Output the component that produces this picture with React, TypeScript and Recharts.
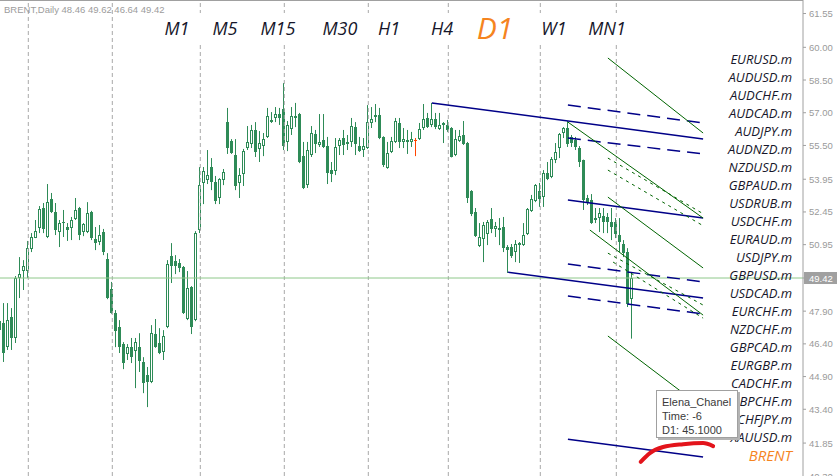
import React from "react";
import { ComposedChart, Bar, XAxis, YAxis, ReferenceLine, Scatter } from "recharts";

// BRENT daily bars, oldest first
const opens = [
  47.03, 47.35, 46.25, 47.63, 46.66, 49.42, 49.74, 49.74, 50.75, 51.25, 51.71, 52.63, 51.30, 53.04, 52.45, 51.53, 51.99, 51.76, 51.71, 52.13,
  52.63, 51.53, 51.53, 52.45, 51.21, 51.07, 51.53, 50.29, 48.91, 47.81, 47.17, 46.39, 45.93, 46.25, 46.07, 46.25, 45.56, 44.97, 44.65, 46.85,
  46.44, 46.02, 47.17, 50.43, 50.20, 50.11, 49.92, 47.54, 49.01, 47.49, 51.62, 53.78, 53.91, 54.51, 53.82, 53.09, 53.91, 56.57, 55.70, 55.06,
  53.78, 54.19, 55.38, 55.56, 56.21, 55.34, 55.47, 55.89, 56.67, 56.76, 56.94, 57.17, 55.66, 56.25, 56.76, 56.94, 55.01, 53.68, 55.06, 56.02,
  55.52, 55.75, 55.47, 54.37, 54.33, 55.47, 55.84, 55.66, 55.66, 56.34, 55.47, 55.29, 55.38, 56.53, 56.90, 56.90, 55.89, 54.46, 55.20, 55.66,
  56.53, 55.66, 55.75, 55.66, 55.75, 55.79, 56.30, 56.76, 56.44, 56.71, 56.25, 56.53, 56.44, 56.30, 55.06, 55.70, 55.98, 55.61, 53.41, 52.45,
  50.89, 51.21, 51.44, 52.13, 51.67, 51.71, 51.76, 50.84, 50.84, 50.61, 50.93, 50.93, 51.44, 52.49, 52.95, 53.41, 53.13, 54.23, 54.05, 54.83,
  55.38, 56.07, 56.30, 55.89, 55.75, 55.38, 54.83, 53.09, 53.00, 52.13, 52.17, 52.26, 52.22, 51.99, 51.99, 51.39, 50.98, 50.61, 48.46,
];
const highs = [
  47.81, 48.27, 48.27, 48.04, 49.51, 50.38, 50.24, 51.12, 51.48, 52.08, 52.72, 52.86, 53.73, 53.32, 52.86, 52.08, 52.54, 51.94, 52.22, 53.09,
  52.68, 51.94, 52.90, 52.50, 51.76, 51.85, 51.67, 50.56, 49.24, 47.95, 47.49, 46.48, 46.39, 46.67, 46.67, 46.89, 45.79, 45.34, 47.26, 47.54,
  47.12, 47.03, 50.24, 51.02, 50.47, 50.29, 49.97, 49.74, 49.05, 51.57, 54.51, 54.51, 55.29, 54.92, 54.10, 54.00, 54.42, 57.22, 55.79, 55.79,
  54.46, 55.34, 56.39, 56.44, 56.57, 56.16, 56.07, 57.22, 57.03, 57.26, 57.22, 58.36, 56.62, 57.26, 57.45, 56.99, 55.66, 55.66, 56.39, 56.21,
  56.94, 56.94, 55.89, 54.74, 55.84, 55.84, 56.21, 55.98, 56.76, 56.57, 55.89, 55.84, 57.35, 57.26, 57.40, 57.22, 55.92, 55.66, 55.89, 56.76,
  56.76, 56.30, 56.21, 56.12, 55.84, 56.53, 57.40, 56.99, 57.45, 56.99, 56.99, 56.57, 56.67, 56.34, 56.21, 56.21, 56.62, 55.66, 53.45, 52.63,
  51.94, 51.99, 52.08, 52.63, 51.99, 52.17, 52.22, 50.93, 50.98, 51.16, 51.07, 51.94, 52.63, 53.23, 53.73, 53.78, 54.37, 54.74, 54.97, 55.61,
  56.07, 56.34, 56.62, 55.98, 55.89, 55.47, 54.85, 53.23, 53.27, 52.63, 52.63, 52.63, 52.40, 52.63, 52.17, 52.17, 51.16, 50.79, 49.62,
];
const lows = [
  46.89, 45.57, 46.12, 46.12, 46.44, 48.50, 48.87, 49.42, 50.61, 51.25, 51.48, 51.48, 51.25, 52.40, 51.39, 50.84, 51.30, 51.12, 51.16, 52.08,
  51.16, 51.34, 51.48, 51.16, 50.70, 50.93, 50.47, 48.45, 47.78, 46.25, 45.98, 45.24, 45.66, 45.52, 44.37, 45.11, 44.14, 43.50, 44.60, 46.22,
  45.93, 45.66, 47.12, 49.19, 49.60, 49.69, 47.77, 47.49, 46.85, 47.44, 51.48, 52.81, 53.73, 53.45, 52.81, 52.81, 53.68, 55.11, 55.11, 53.45,
  53.09, 53.64, 55.29, 55.38, 54.97, 54.74, 55.01, 55.84, 56.53, 56.57, 56.44, 55.29, 55.24, 55.98, 56.34, 54.69, 53.50, 53.55, 54.97, 55.15,
  55.43, 55.38, 53.73, 53.82, 54.14, 55.06, 55.06, 55.29, 55.43, 55.06, 55.20, 54.97, 55.34, 56.30, 56.57, 55.79, 54.51, 54.43, 55.15, 55.61,
  55.38, 55.38, 55.11, 55.43, 55.01, 55.75, 56.21, 56.30, 56.34, 56.25, 56.21, 55.61, 56.12, 54.95, 55.01, 55.66, 55.52, 52.86, 52.26, 51.30,
  50.84, 50.15, 50.93, 51.48, 51.30, 50.93, 50.61, 49.65, 50.34, 50.15, 50.11, 50.89, 51.39, 52.45, 52.90, 52.68, 52.68, 53.91, 54.00, 54.69,
  54.92, 55.84, 55.43, 55.43, 55.29, 54.51, 52.54, 52.77, 51.90, 51.94, 51.53, 51.48, 51.48, 51.16, 51.25, 50.61, 50.38, 48.09, 46.64,
];
const closes = [
  47.44, 45.98, 47.49, 46.66, 49.42, 49.60, 49.97, 50.79, 51.30, 51.57, 52.58, 51.67, 52.90, 52.45, 51.62, 51.94, 51.94, 51.62, 52.08, 52.54,
  51.39, 51.90, 52.40, 51.25, 51.02, 51.39, 50.61, 48.50, 47.81, 46.99, 46.25, 45.52, 46.25, 45.79, 46.48, 45.61, 44.60, 44.65, 46.89, 46.25,
  45.98, 46.76, 50.06, 49.97, 49.97, 49.88, 47.81, 48.96, 47.17, 51.48, 53.68, 54.33, 54.14, 53.82, 52.95, 53.96, 54.28, 55.38, 55.15, 53.64,
  54.14, 55.24, 55.66, 56.21, 55.20, 55.61, 55.79, 56.85, 56.57, 56.94, 56.76, 55.47, 56.44, 56.85, 56.85, 54.74, 53.55, 55.29, 56.07, 55.56,
  55.66, 55.43, 54.23, 54.19, 55.43, 55.75, 55.52, 55.56, 56.39, 55.56, 55.24, 55.47, 56.57, 56.71, 56.80, 55.84, 54.60, 55.15, 55.70, 56.62,
  55.66, 55.79, 55.66, 55.79, 55.75, 56.25, 56.71, 56.34, 56.71, 56.34, 56.44, 56.44, 56.21, 54.97, 55.79, 55.93, 55.56, 53.09, 52.35, 51.34,
  51.30, 51.85, 51.99, 51.67, 51.80, 51.62, 50.79, 50.70, 50.43, 50.98, 51.02, 51.39, 52.58, 53.04, 53.68, 53.04, 54.23, 53.96, 54.88, 55.20,
  56.02, 56.30, 55.56, 55.61, 55.43, 54.74, 53.00, 52.90, 51.94, 52.17, 52.40, 51.99, 51.99, 51.76, 51.44, 51.07, 50.56, 48.23, 49.42,
];

const highlightBar = 104;
const separatorBars = [7, 28, 50, 71, 92, 112, 135, 154];
const priceTicks = [61.55, 60.0, 58.5, 57.0, 55.5, 53.95, 52.45, 50.95, 49.42, 47.9, 46.4, 44.9, 43.4, 41.85, 40.3];
const lastPrice = 49.42;
const header = "BRENT,Daily 48.46 49.62 46.64 49.42";

const timeframes = ["M1", "M5", "M15", "M30", "H1", "H4", "D1", "W1", "MN1"];
const timeframeX = [177, 225, 278, 340, 389, 442, 495, 554, 607];
const activeTimeframe = "D1";

const symbols = [
  "EURUSD.m", "AUDUSD.m", "AUDCHF.m", "AUDCAD.m", "AUDJPY.m", "AUDNZD.m", "NZDUSD.m", "GBPAUD.m",
  "USDRUB.m", "USDCHF.m", "EURAUD.m", "USDJPY.m", "GBPUSD.m", "USDCAD.m", "EURCHF.m", "NZDCHF.m",
  "GBPCAD.m", "EURGBP.m", "CADCHF.m", "GBPCHF.m", "CHFJPY.m", "XAUUSD.m",
];
const currentSymbol = "BRENT";
const tooltipLines = ["Elena_Chanel", "Time: -6", "D1: 45.1000"];

// drawn objects, anchors as [bar, price]
const blueSolid = [
  [[107.9, 57.45], [175.7, 55.79]],
  [[126.9, 49.69], [175.7, 48.5]],
  [[141.9, 53.0], [175.7, 52.17]],
  [[141.9, 42.03], [175.7, 41.21]],
];
const blueDashed = [
  [[141.9, 57.35], [175.7, 56.53]],
  [[141.9, 55.84], [175.7, 55.11]],
  [[141.9, 50.06], [175.7, 49.24]],
  [[141.9, 48.59], [175.7, 47.77]],
];
const greenSolid = [
  [[151.9, 59.51], [175.7, 56.07]],
  [[141.9, 56.57], [175.7, 52.17]],
  [[151.9, 53.13], [175.7, 49.88]],
  [[147.4, 51.62], [175.7, 47.72]],
  [[151.9, 46.76], [175.7, 43.45]],
];
const greenDashed = [
  [[151.9, 54.92], [175.4, 52.4]],
  [[151.9, 54.37], [175.4, 51.85]],
  [[151.9, 50.56], [175.7, 48.18]],
  [[153.2, 50.15], [175.7, 47.58]],
];
const redMark = [
  [160.1, 40.99], [162.4, 41.39], [165.7, 41.67], [170.7, 41.8], [175.7, 41.85], [178.2, 41.71],
];

const candles = opens.map((open, i) => ({
  i,
  open,
  high: highs[i],
  low: lows[i],
  close: closes[i],
}));
const redData = redMark.map(([i, p]) => ({ i, p }));

const GREEN = "#2e8b57";
const AXIS = "#a0a0a0";
const TEXT_DARK = "#16162a";
const ORANGE = "#f5841f";

function Candle(props: any) {
  const { x, y, width, height, payload } = props;
  if (!payload || x == null) return <g />;
  const { open, close, high, low, i } = payload;
  const top0 = Math.min(y, y + height);
  const h = Math.abs(height);
  const k = h / (high - low);
  const py = (v: number) => top0 + (high - v) * k;
  const cx = Math.floor(x + width / 2) + 0.5;
  const color = i === highlightBar ? "#ff4500" : GREEN;
  const bTop = Math.round(py(Math.max(open, close)));
  const bBot = Math.round(py(Math.min(open, close)));
  return (
    <g>
      <line x1={cx} x2={cx} y1={top0} y2={top0 + h} stroke={color} strokeWidth={1} />
      {close > open ? (
        <rect x={cx - 1} y={bTop + 0.5} width={2} height={Math.max(1, bBot - bTop - 1)} fill="#fff" stroke={color} strokeWidth={1} />
      ) : close < open ? (
        <rect x={cx - 1.5} y={bTop} width={3} height={Math.max(1, bBot - bTop)} fill={color} />
      ) : (
        <line x1={cx - 1.5} x2={cx + 1.5} y1={bTop + 0.5} y2={bTop + 0.5} stroke={color} strokeWidth={1} />
      )}
    </g>
  );
}

function PriceTick(props: any) {
  const { x, y, payload } = props;
  const v = payload.value as number;
  const label = v.toFixed(2);
  if (v === lastPrice) {
    return (
      <g>
        <rect x={x - 4} y={y - 6} width={33} height={12} fill={AXIS} />
        <text x={x + 1} y={y + 3.5} fill="#fff" fontSize={9.5} fontFamily="Liberation Sans, Arial, sans-serif">
          {label}
        </text>
      </g>
    );
  }
  return (
    <text x={x + 1} y={y + 3.5} fill="#9a9a9a" fontSize={9.5} fontFamily="Liberation Sans, Arial, sans-serif">
      {label}
    </text>
  );
}

function seg(pair: number[][]) {
  return [
    { x: pair[0][0], y: pair[0][1] },
    { x: pair[1][0], y: pair[1][1] },
  ];
}

export default function App() {
  return (
    <div style={{ position: "absolute", left: 0, top: 0, width: 837, height: 476, background: "#fff" }}>
      <ComposedChart width={837} height={476} data={candles} margin={{ top: 0, right: 0, bottom: 0, left: 0 }}>
        <XAxis dataKey="i" type="number" domain={[-0.075, 200.675]} allowDataOverflow hide />
        <YAxis
          orientation="right"
          width={34}
          domain={[40.34, 62.17]}
          allowDataOverflow
          ticks={priceTicks}
          interval={0}
          tick={<PriceTick />}
          tickSize={3}
          tickLine={{ stroke: AXIS }}
          axisLine={{ stroke: AXIS }}
        />
        {separatorBars.map((b) => (
          <ReferenceLine key={"sep" + b} x={b} stroke="#a8a8a8" strokeDasharray="4 3" ifOverflow="visible" />
        ))}
        <ReferenceLine y={lastPrice} stroke="#8ec88a" strokeWidth={1} ifOverflow="visible" />
        <Bar dataKey={(d: any) => [d.low, d.high]} barSize={3} shape={<Candle />} isAnimationActive={false} />
        {blueSolid.map((p, n) => (
          <ReferenceLine key={"bs" + n} segment={seg(p)} stroke="#000088" strokeWidth={1.5} ifOverflow="visible" />
        ))}
        {blueDashed.map((p, n) => (
          <ReferenceLine key={"bd" + n} segment={seg(p)} stroke="#000088" strokeWidth={1.5} strokeDasharray="13 7" ifOverflow="visible" />
        ))}
        {greenSolid.map((p, n) => (
          <ReferenceLine key={"gs" + n} segment={seg(p)} stroke="#006400" strokeWidth={1} ifOverflow="visible" />
        ))}
        {greenDashed.map((p, n) => (
          <ReferenceLine key={"gd" + n} segment={seg(p)} stroke="#006400" strokeWidth={1} strokeDasharray="3 4" ifOverflow="visible" />
        ))}
        <Scatter
          data={redData}
          dataKey="p"
          shape={() => <g />}
          line={{ stroke: "#e3141c", strokeWidth: 4, strokeLinecap: "round" }}
          lineType="joint"
          lineJointType="monotoneX"
          isAnimationActive={false}
        />
      </ComposedChart>

      <svg width={837} height={476} style={{ position: "absolute", left: 0, top: 0, pointerEvents: "none" }}>
        <line x1={0} x2={803} y1={0.5} y2={0.5} stroke={AXIS} />
        <text x={4} y={13} fontSize={9.5} fill="#9c9c9c" fontFamily="Liberation Sans, Arial, sans-serif">
          {header}
        </text>
        <rect x={158} y={13} width={474} height={30} fill="#fff" />
        {timeframes.map((t, n) => (
          <text
            key={t}
            x={timeframeX[n]}
            y={t === activeTimeframe ? 39 : 35}
            textAnchor="middle"
            fontSize={t === activeTimeframe ? 30 : 18}
            fontStyle="italic"
            fontFamily="Open Sans, sans-serif"
            fill={t === activeTimeframe ? ORANGE : TEXT_DARK}
          >
            {t}
          </text>
        ))}
        {symbols.map((s, n) => (
          <text
            key={s}
            x={792}
            y={59 + n * 18 + 4.5}
            textAnchor="end"
            fontSize={13}
            fontStyle="italic"
            fontFamily="Open Sans, sans-serif"
            fill={TEXT_DARK}
          >
            {s}
          </text>
        ))}
        <text x={792} y={461} textAnchor="end" fontSize={15} fontStyle="italic" fontFamily="Open Sans, sans-serif" fill={ORANGE}>
          {currentSymbol}
        </text>
      </svg>

      <div
        style={{
          position: "absolute",
          left: 656,
          top: 390,
          width: 82,
          height: 48,
          background: "#fff",
          border: "1px solid #a0a0a0",
          boxShadow: "2px 2px 0 #b4b4b4",
          fontFamily: "Liberation Sans, Arial, sans-serif",
          fontSize: 11,
          color: "#3a3a3a",
          lineHeight: "14px",
          padding: "4px 0 0 5px",
          boxSizing: "border-box",
          whiteSpace: "nowrap",
        }}
      >
        {tooltipLines.map((l) => (
          <div key={l}>{l}</div>
        ))}
      </div>
    </div>
  );
}
